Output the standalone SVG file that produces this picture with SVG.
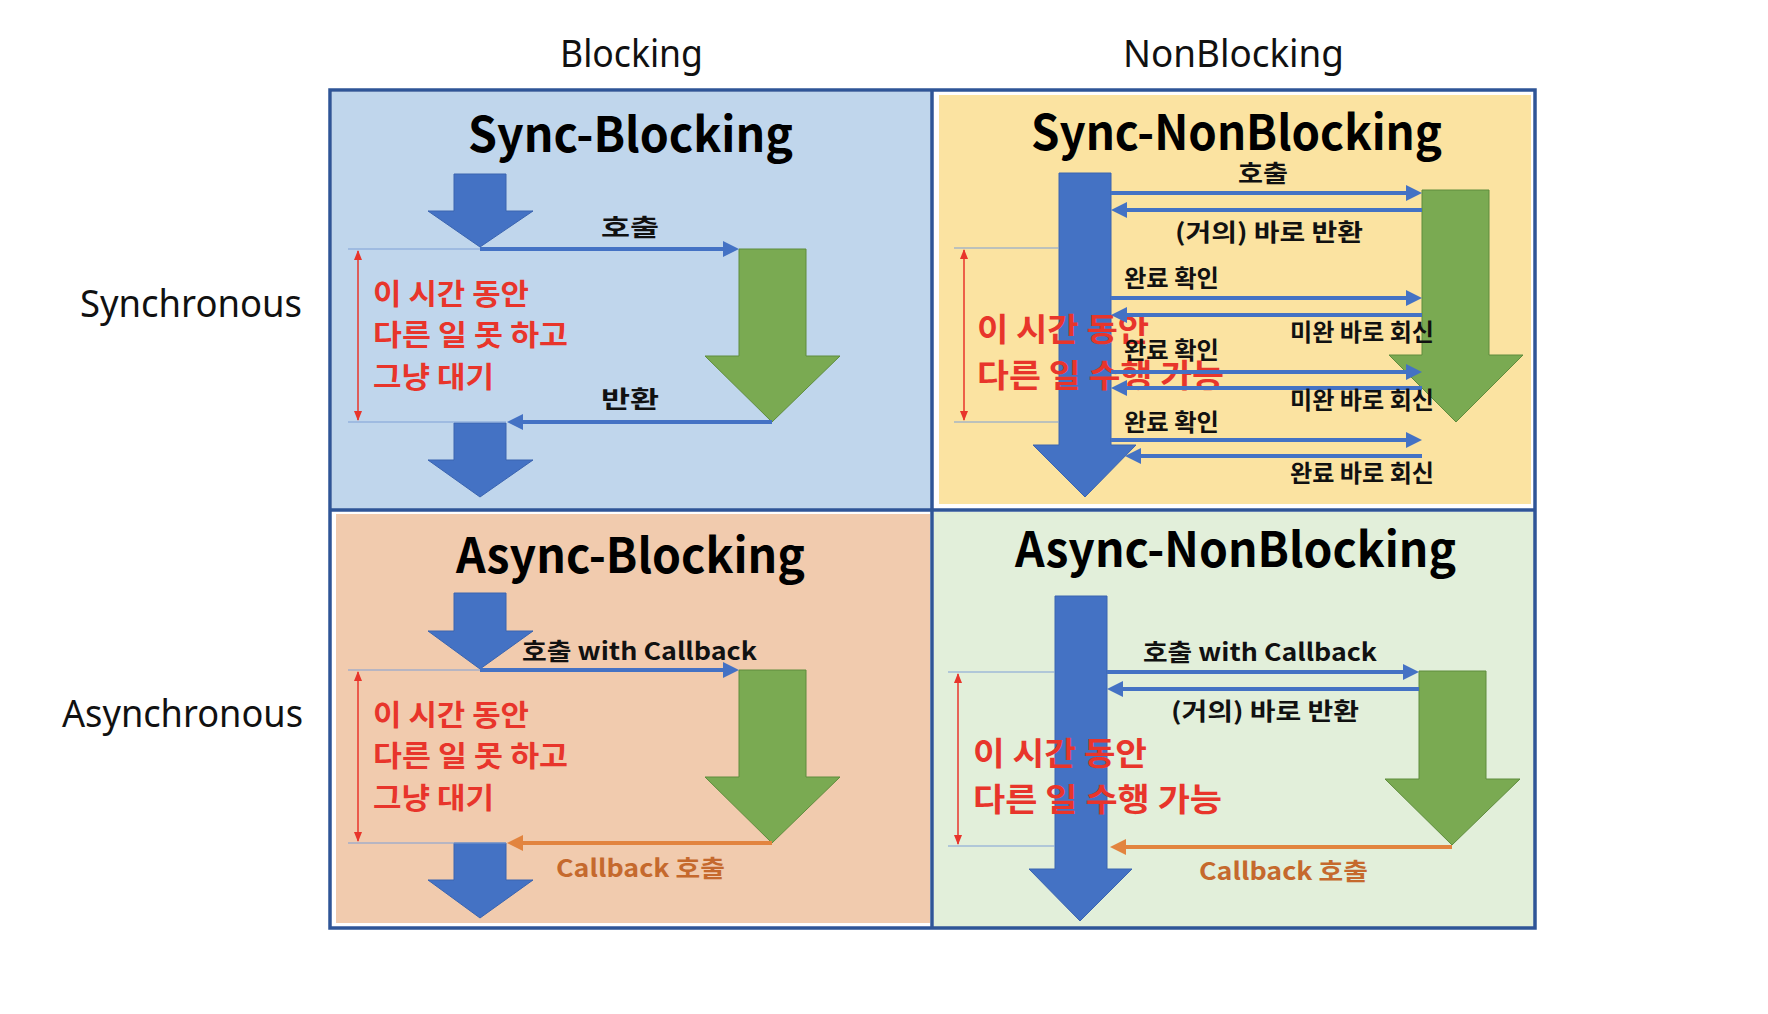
<svg xmlns="http://www.w3.org/2000/svg" width="1768" height="1014" viewBox="0 0 1768 1014">
<defs>
<style>
.hdr{font-family:"Noto Sans","Open Sans","Liberation Sans",sans-serif;font-size:38px;fill:#111;}
.title{font-family:"Noto Sans CJK KR","Noto Sans",sans-serif;font-weight:700;font-size:48px;fill:#000;}
.lbl{font-family:"Noto Sans CJK KR","Noto Sans",sans-serif;font-weight:700;font-size:24px;fill:#111;}
.olbl{font-family:"Noto Sans CJK KR","Noto Sans",sans-serif;font-weight:700;font-size:24px;fill:#C5692D;}
.red{font-family:"Noto Sans CJK KR","Noto Sans",sans-serif;font-weight:700;font-size:29px;fill:#E8352B;}
.red2{font-family:"Noto Sans CJK KR","Noto Sans",sans-serif;font-weight:700;font-size:32px;fill:#E8352B;}
.blk{fill:#4472C4;stroke:#3A64B0;stroke-width:1;}
.grn{fill:#7AAA52;stroke:#5E8C3C;stroke-width:1;}
.cb{stroke:#4472C4;stroke-width:4;fill:none;marker-end:url(#ahb);}
.co{stroke:#E2843F;stroke-width:4;fill:none;marker-end:url(#aho);}
.guide{stroke:#7F9FD6;stroke-width:1.2;fill:none;}
.meas{stroke:#E8352B;stroke-width:1.5;fill:none;marker-start:url(#ahr);marker-end:url(#ahr);}
</style>
<marker id="ahb" markerUnits="userSpaceOnUse" markerWidth="16" markerHeight="16" refX="2" refY="8" orient="auto"><path d="M0,0 L16,8 L0,16 z" fill="#4472C4"/></marker>
<marker id="aho" markerUnits="userSpaceOnUse" markerWidth="16" markerHeight="16" refX="2" refY="8" orient="auto"><path d="M0,0 L16,8 L0,16 z" fill="#E2843F"/></marker>
<marker id="ahr" markerUnits="userSpaceOnUse" markerWidth="10" markerHeight="8" refX="9" refY="4" orient="auto-start-reverse"><path d="M0,0 L10,4 L0,8 z" fill="#E8352B"/></marker>
</defs>
<rect width="1768" height="1014" fill="#fff"/>

<g id="headers">
<text class="hdr" x="560" y="67" textLength="143" lengthAdjust="spacingAndGlyphs">Blocking</text>
<text class="hdr" x="1123" y="67" textLength="221" lengthAdjust="spacingAndGlyphs">NonBlocking</text>
<text class="hdr" x="80" y="317" textLength="222" lengthAdjust="spacingAndGlyphs">Synchronous</text>
<text class="hdr" x="62" y="727" textLength="241" lengthAdjust="spacingAndGlyphs">Asynchronous</text>
</g>

<g id="cell-sync-blocking">
<rect x="332" y="92" width="599" height="417" fill="#C0D6EC"/>
<text class="title" x="468" y="152" textLength="325" lengthAdjust="spacingAndGlyphs">Sync-Blocking</text>
</g>
<g id="cell-sync-nonblocking">
<rect x="939" y="95" width="592" height="409" fill="#FBE3A1"/>
<text class="title" x="1031" y="150" textLength="411" lengthAdjust="spacingAndGlyphs">Sync-NonBlocking</text>
</g>
<g id="cell-async-blocking">
<rect x="336" y="514" width="594" height="409" fill="#F1CBAE"/>
<text class="title" x="456" y="573" textLength="349" lengthAdjust="spacingAndGlyphs">Async-Blocking</text>
</g>
<g id="cell-async-nonblocking">
<rect x="934" y="512" width="600" height="415" fill="#E2EFDA"/>
<text class="title" x="1015" y="567" textLength="441" lengthAdjust="spacingAndGlyphs">Async-NonBlocking</text>
</g>
<g id="grid" fill="none" stroke="#2F5597" stroke-width="3.5">
<rect x="330" y="90" width="1205" height="838"/>
<line x1="932" y1="90" x2="932" y2="928"/>
<line x1="330" y1="510" x2="1535" y2="510"/>
</g>

<g id="sb-caller-top"><polygon class="blk" points="454,174 506,174 506,211 533,211 480,247 428,211 454,211"/></g>
<g id="sb-caller-bottom"><polygon class="blk" points="454,423 506,423 506,460 533,460 480,497 428,460 454,460"/></g>
<g id="sb-callee"><polygon class="grn" points="739,249 806,249 806,356 840,356 772,422 705,356 739,356"/></g>

<g id="snb-caller"><polygon class="blk" points="1059,173 1111,173 1111,445 1136,445 1085,497 1033,445 1059,445"/></g>
<g id="snb-callee"><polygon class="grn" points="1422,190 1489,190 1489,355 1523,355 1456,422 1389,355 1422,355"/></g>

<g id="ab-caller-top"><polygon class="blk" points="454,593 506,593 506,631 533,631 480,669 428,631 454,631"/></g>
<g id="ab-caller-bottom"><polygon class="blk" points="454,843 506,843 506,880 533,880 480,918 428,880 454,880"/></g>
<g id="ab-callee"><polygon class="grn" points="739,670 806,670 806,777 840,777 772,843 705,777 739,777"/></g>

<g id="anb-caller"><polygon class="blk" points="1055,596 1107,596 1107,869 1132,869 1080,921 1029,869 1055,869"/></g>
<g id="anb-callee"><polygon class="grn" points="1419,671 1486,671 1486,779 1520,779 1452,845 1385,779 1419,779"/></g>

<g id="sb-wait">
<line class="guide" x1="348" y1="249" x2="480" y2="249"/>
<line class="guide" x1="348" y1="422" x2="506" y2="422"/>
<line class="meas" x1="358" y1="251" x2="358" y2="420"/>
<text class="red" x="373" y="305" textLength="156" lengthAdjust="spacingAndGlyphs">이 시간 동안</text>
<text class="red" x="373" y="346" textLength="195" lengthAdjust="spacingAndGlyphs">다른 일 못 하고</text>
<text class="red" x="373" y="388" textLength="121" lengthAdjust="spacingAndGlyphs">그냥 대기</text>
</g>
<g id="snb-wait">
<line class="guide" x1="954" y1="248" x2="1059" y2="248"/>
<line class="guide" x1="954" y1="422" x2="1059" y2="422"/>
<line class="meas" x1="964" y1="250" x2="964" y2="420"/>
<text class="red2" x="977" y="341" textLength="172" lengthAdjust="spacingAndGlyphs">이 시간 동안</text>
<text class="red2" x="977" y="387" textLength="247" lengthAdjust="spacingAndGlyphs">다른 일 수행 가능</text>
</g>
<g id="ab-wait">
<line class="guide" x1="348" y1="670" x2="480" y2="670"/>
<line class="guide" x1="348" y1="843" x2="506" y2="843"/>
<line class="meas" x1="358" y1="672" x2="358" y2="841"/>
<text class="red" x="373" y="726" textLength="156" lengthAdjust="spacingAndGlyphs">이 시간 동안</text>
<text class="red" x="373" y="767" textLength="195" lengthAdjust="spacingAndGlyphs">다른 일 못 하고</text>
<text class="red" x="373" y="809" textLength="121" lengthAdjust="spacingAndGlyphs">그냥 대기</text>
</g>
<g id="anb-wait">
<line class="guide" x1="948" y1="672" x2="1055" y2="672"/>
<line class="guide" x1="948" y1="846" x2="1055" y2="846"/>
<line class="meas" x1="958" y1="674" x2="958" y2="844"/>
<text class="red2" x="973" y="765" textLength="174" lengthAdjust="spacingAndGlyphs">이 시간 동안</text>
<text class="red2" x="973" y="811" textLength="249" lengthAdjust="spacingAndGlyphs">다른 일 수행 가능</text>
</g>

<g id="connectors">
<line class="cb" x1="480" y1="249" x2="725" y2="249"/>
<line class="cb" x1="772" y1="422" x2="521" y2="422"/>

<line class="cb" x1="1111" y1="193" x2="1408" y2="193"/>
<line class="cb" x1="1422" y1="210" x2="1125" y2="210"/>
<line class="cb" x1="1111" y1="298" x2="1408" y2="298"/>
<line class="cb" x1="1422" y1="315" x2="1125" y2="315"/>
<line class="cb" x1="1111" y1="372" x2="1408" y2="372"/>
<line class="cb" x1="1422" y1="388" x2="1125" y2="388"/>
<line class="cb" x1="1111" y1="440" x2="1408" y2="440"/>
<line class="cb" x1="1422" y1="456" x2="1139" y2="456"/>

<line class="cb" x1="480" y1="670" x2="725" y2="670"/>
<line class="co" x1="772" y1="843" x2="521" y2="843"/>

<line class="cb" x1="1107" y1="672" x2="1405" y2="672"/>
<line class="cb" x1="1419" y1="689" x2="1121" y2="689"/>
<line class="co" x1="1452" y1="847" x2="1124" y2="847"/>
</g>

<g id="connector-labels">
<text class="lbl" x="601" y="236" textLength="58" lengthAdjust="spacingAndGlyphs">호출</text>
<text class="lbl" x="601" y="408" textLength="58" lengthAdjust="spacingAndGlyphs">반환</text>

<text class="lbl" x="1238" y="182" textLength="50" lengthAdjust="spacingAndGlyphs">호출</text>
<text class="lbl" x="1175" y="241" textLength="188" lengthAdjust="spacingAndGlyphs">(거의) 바로 반환</text>
<text class="lbl" x="1124" y="287" textLength="95" lengthAdjust="spacingAndGlyphs">완료 확인</text>
<text class="lbl" x="1290" y="341" textLength="144" lengthAdjust="spacingAndGlyphs">미완 바로 회신</text>
<text class="lbl" x="1124" y="359" textLength="95" lengthAdjust="spacingAndGlyphs">완료 확인</text>
<text class="lbl" x="1290" y="409" textLength="144" lengthAdjust="spacingAndGlyphs">미완 바로 회신</text>
<text class="lbl" x="1124" y="431" textLength="95" lengthAdjust="spacingAndGlyphs">완료 확인</text>
<text class="lbl" x="1290" y="482" textLength="144" lengthAdjust="spacingAndGlyphs">완료 바로 회신</text>

<text class="lbl" x="522" y="660" textLength="235" lengthAdjust="spacingAndGlyphs">호출 with Callback</text>
<text class="olbl" x="556" y="877" textLength="169" lengthAdjust="spacingAndGlyphs">Callback 호출</text>

<text class="lbl" x="1143" y="661" textLength="234" lengthAdjust="spacingAndGlyphs">호출 with Callback</text>
<text class="lbl" x="1171" y="720" textLength="188" lengthAdjust="spacingAndGlyphs">(거의) 바로 반환</text>
<text class="olbl" x="1199" y="880" textLength="169" lengthAdjust="spacingAndGlyphs">Callback 호출</text>
</g>
</svg>
